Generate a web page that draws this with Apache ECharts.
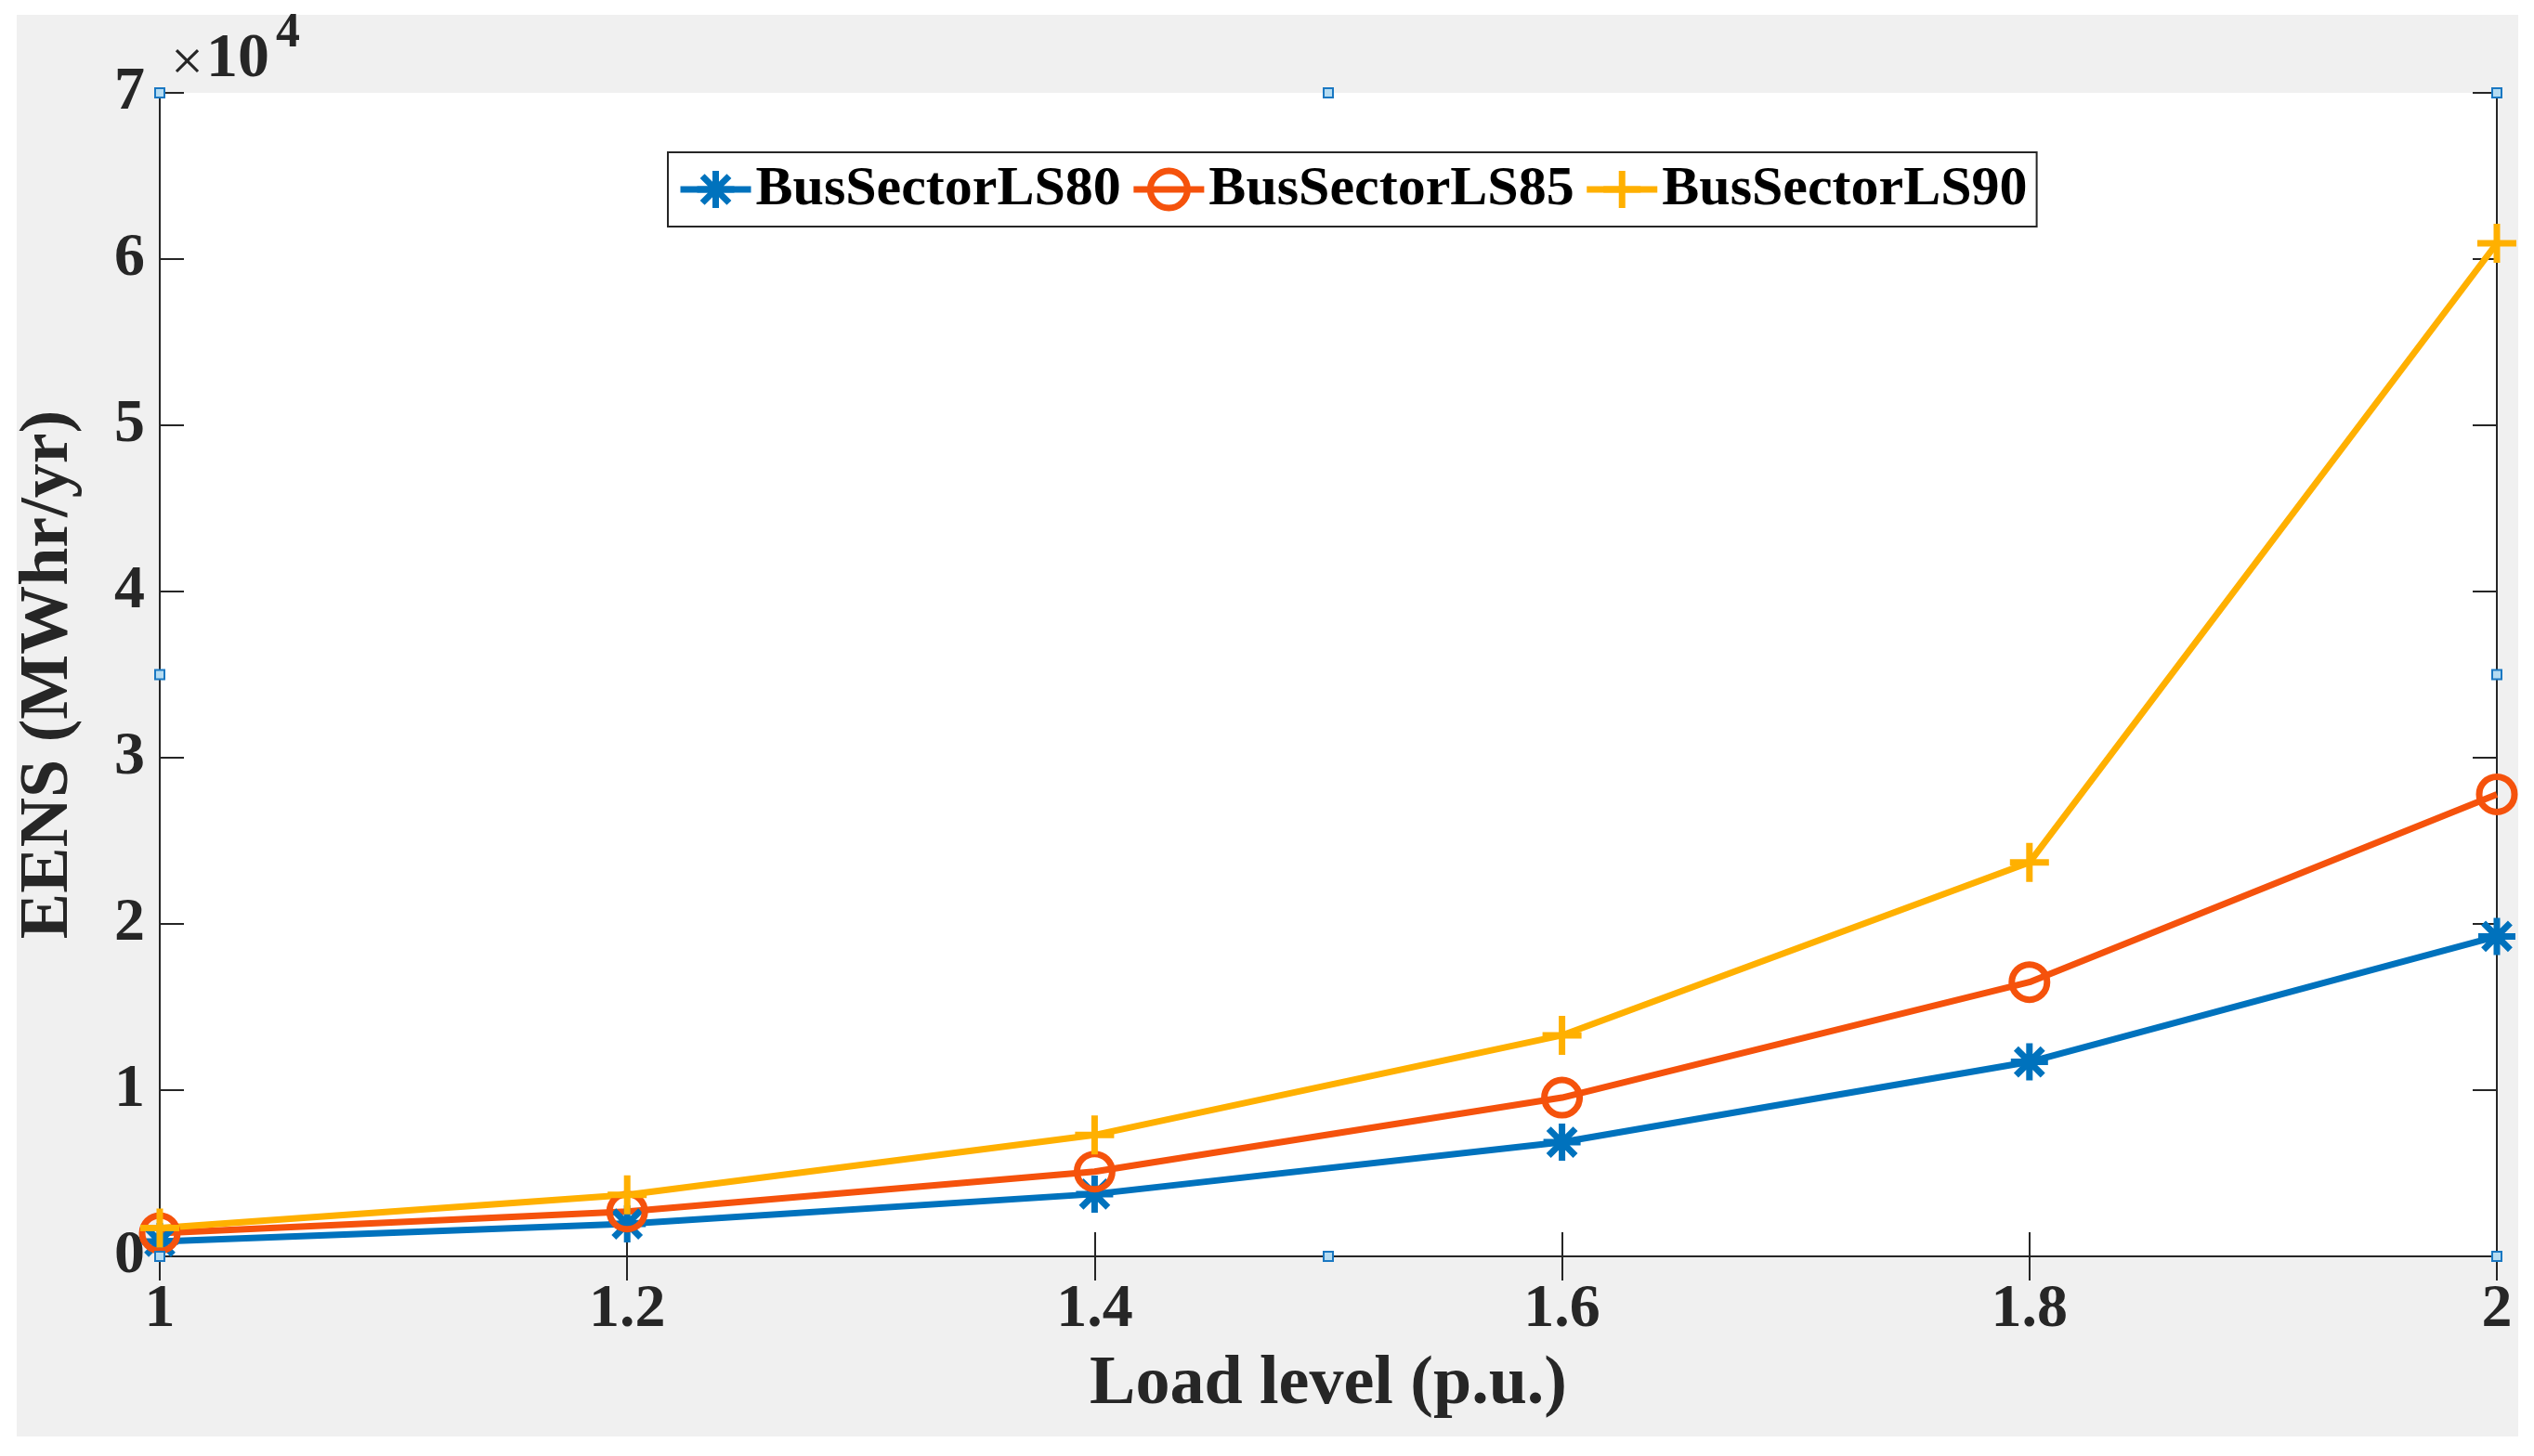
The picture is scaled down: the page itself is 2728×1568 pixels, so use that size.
<!DOCTYPE html>
<html>
<head>
<meta charset="utf-8">
<script src="https://cdn.jsdelivr.net/npm/echarts@6/dist/echarts.min.js"></script>
<style>
  html, body { margin: 0; padding: 0; background: #ffffff; }
  #bg { position: absolute; left: 18px; top: 16px; width: 2693px; height: 1531px; background: #f0f0f0; }
  #chart { position: absolute; left: 0; top: 0; width: 2728px; height: 1568px; }
</style>
</head>
<body>
<div id="bg"></div>
<div id="chart"></div>
<script>
// ---- data ----
const loadLevels = [1, 1.2, 1.4, 1.6, 1.8, 2];
const seriesNames = ['BusSectorLS80', 'BusSectorLS85', 'BusSectorLS90'];
const ls80 = [900, 1950, 3750, 6870, 11700, 19250];
const ls85 = [1400, 2700, 5100, 9550, 16500, 27800];
const ls90 = [1700, 3700, 7300, 13300, 23700, 60950];
const xTicks = [1, 1.2, 1.4, 1.6, 1.8, 2];
const yTicks = [0, 1, 2, 3, 4, 5, 6, 7]; // x 10^4

const colors = ['#0072BD', '#F5520C', '#FFB000'];
const FONT = '"Liberation Serif", "Times New Roman", serif';
const TXT = '#262626';

const asterisk = 'path://M0,-1L0,1M-1,0L1,0M-0.72,-0.72L0.72,0.72M-0.72,0.72L0.72,-0.72';
const plus = 'path://M0,-1L0,1M-1,0L1,0';

function pairs(vals) { return loadLevels.map((x, i) => [x, vals[i]]); }

function mkSeries(name, vals, color, symbol, size) {
  return {
    name: name, type: 'line', data: pairs(vals),
    symbol: symbol, symbolSize: size, showAllSymbol: true,
    lineStyle: { color: color, width: 7 },
    itemStyle: { color: 'rgba(255,255,255,0)', borderColor: color, borderWidth: 7 },
    emphasis: { disabled: true },
    z: 3
  };
}

const chart = echarts.init(document.getElementById('chart'), null, { renderer: 'canvas' });

const axisCommon = {
  axisLine: { show: true, lineStyle: { color: TXT, width: 2 } },
  axisTick: { show: true, inside: true, length: 26, lineStyle: { color: TXT, width: 2 } },
  splitLine: { show: false }
};

const option = {
  animation: false,
  backgroundColor: 'transparent',
  grid: {
    left: 172, right: 40, top: 100, bottom: 215,
    show: true, backgroundColor: '#ffffff', borderWidth: 0,
    outerBoundsMode: 'none', containLabel: false
  },
  legend: {
    show: true, data: seriesNames,
    left: 719, top: 164,
    orient: 'horizontal',
    backgroundColor: '#ffffff', borderColor: TXT, borderWidth: 2,
    padding: [10, 10, 10, 10],
    itemWidth: 76, itemHeight: 50, itemGap: 10,
    lineStyle: { width: 7 },
    itemStyle: { borderWidth: 7 },
    textStyle: { fontFamily: FONT, fontWeight: 'bold', fontSize: 60, color: '#000', lineHeight: 60, padding: [0, 0, 0, 0] },
    selectedMode: false
  },
  xAxis: [
    Object.assign({
      type: 'value', min: 1, max: 2, interval: 0.2, position: 'bottom',
      name: 'Load level (p.u.)', nameLocation: 'middle', nameGap: 102,
      nameTextStyle: { fontFamily: FONT, fontWeight: 'bold', fontSize: 74, color: TXT },
      axisLabel: {
        show: true, margin: 25, fontFamily: FONT, fontWeight: 'bold', fontSize: 66, color: TXT,
        formatter: v => String(+v.toFixed(1)), showMinLabel: true, showMaxLabel: true
      }
    }, axisCommon),
    Object.assign({
      type: 'value', min: 1, max: 2, interval: 0.2, position: 'top',
      axisLabel: { show: false }
    }, axisCommon)
  ],
  yAxis: [
    Object.assign({
      type: 'value', min: 0, max: 70000, interval: 10000, position: 'left',
      name: 'EENS (MWhr/yr)', nameLocation: 'middle', nameGap: 82, nameRotate: 90,
      nameTextStyle: { fontFamily: FONT, fontWeight: 'bold', fontSize: 74, color: TXT },
      axisLabel: {
        show: true, margin: 16, fontFamily: FONT, fontWeight: 'bold', fontSize: 66, color: TXT,
        formatter: v => String(yTicks[Math.round(v / 10000)]), showMinLabel: true, showMaxLabel: true
      }
    }, axisCommon),
    Object.assign({
      type: 'value', min: 0, max: 70000, interval: 10000, position: 'right',
      axisLabel: { show: false }
    }, axisCommon)
  ],
  series: [
    mkSeries(seriesNames[0], ls80, colors[0], asterisk, 40),
    mkSeries(seriesNames[1], ls85, colors[1], 'circle', 38),
    mkSeries(seriesNames[2], ls90, colors[2], plus, 42)
  ]
};

chart.setOption(option);

// exponent label and selection handles, positioned from the grid
const tl = chart.convertToPixel({ gridIndex: 0 }, [1, 70000]);
const br = chart.convertToPixel({ gridIndex: 0 }, [2, 0]);
const mx = (tl[0] + br[0]) / 2, my = (tl[1] + br[1]) / 2;
const handlePts = [
  [tl[0], tl[1]], [mx, tl[1]], [br[0], tl[1]],
  [tl[0], my], [br[0], my],
  [tl[0], br[1]], [mx, br[1]], [br[0], br[1]]
];
const graphics = handlePts.map(p => ({
  type: 'rect', z: 100,
  shape: { x: p[0] - 5, y: p[1] - 5, width: 10, height: 10 },
  style: { fill: '#b5dcf2', stroke: '#1a78c2', lineWidth: 2 }
}));
graphics.push({
  type: 'text', z: 100,
  style: { x: tl[0] + 12, y: tl[1] - 30, text: '\u00d7', font: 'normal 62px ' + FONT, fill: TXT,
           textAlign: 'left', textVerticalAlign: 'middle' }
});
graphics.push({
  type: 'text', z: 100,
  style: { x: tl[0] + 50, y: tl[1] - 36, text: '10', font: 'bold 68px ' + FONT, fill: TXT,
           textAlign: 'left', textVerticalAlign: 'middle' }
});
graphics.push({
  type: 'text', z: 100,
  style: { x: tl[0] + 125, y: tl[1] - 63, text: '4', font: 'bold 52px ' + FONT, fill: TXT,
           textAlign: 'left', textVerticalAlign: 'middle' }
});
chart.setOption({ graphic: graphics });
</script>
</body>
</html>
